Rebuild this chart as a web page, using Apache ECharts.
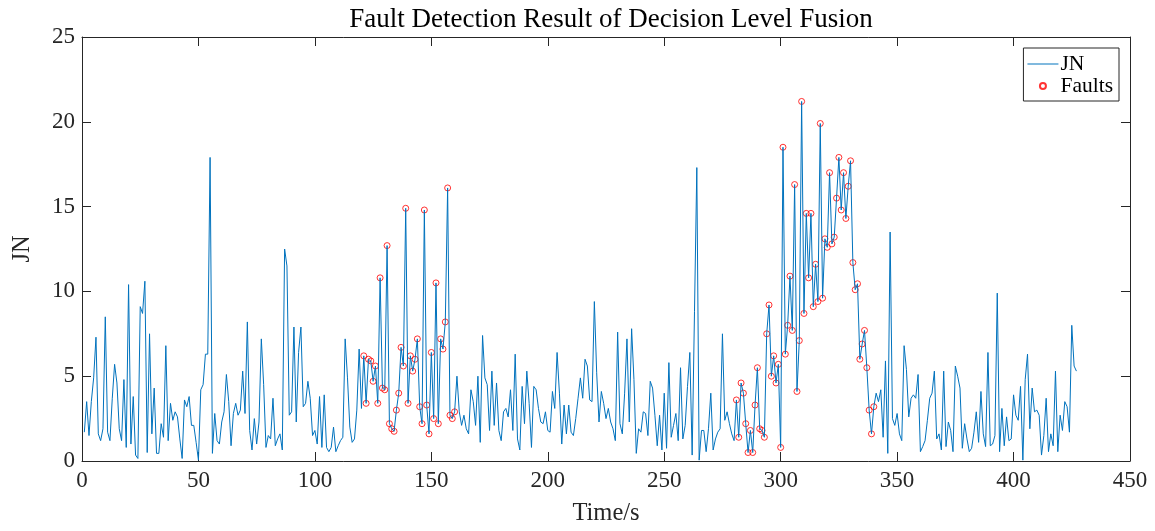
<!DOCTYPE html>
<html>
<head>
<meta charset="utf-8">
<script src="https://cdn.jsdelivr.net/npm/echarts@6/dist/echarts.min.js"></script>
<style>
html,body{margin:0;padding:0;background:#fff;}
#chart{width:1155px;height:531px;}
</style>
</head>
<body>
<div id="chart"></div>
<script>
// JN value at each time step t = 1 .. 427
const jn = [
1.7,3.5,1.5,3.5,4.9,7.3,1.6,1.2,1.9,8.5, 1.7,1.2,3.7,5.7,4.6,1.9,1.2,4.8,0.8,10.4,
1.0,3.8,0.35,0.15,9.1,8.7,10.6,0.5,7.5,1.6, 4.3,0.45,0.45,2.2,1.4,6.8,1.2,3.4,2.4,2.9,
2.6,1.3,0.15,3.6,3.2,3.8,2.1,2.1,1.1,0.05, 4.2,4.5,6.3,6.3,17.9,0.45,2.8,1.2,1.0,2.3,
2.9,5.1,3.5,0.9,2.8,3.4,2.7,3.0,5.3,2.8,
8.2,1.8,0.65,2.5,1.0,2.3,7.2,4.5,0.8,1.5,
1.3,3.7,0.9,1.3,1.6,0.65,12.5,11.5,2.7,2.9,
7.9,2.3,6.4,7.9,3.2,3.4,4.7,3.7,1.5,1.8,
1.0,3.8,0.8,3.9,0.8,0.55,0.8,2.0,0.55,0.9,
1.2,1.4,7.2,4.9,2.0,1.1,1.3,3.0,6.6,3.1,
6.2,3.4,6.0,5.9,4.7,5.6,3.4,10.8,4.3,4.2,
12.7,2.2,1.9,1.75,3.0,4.0,6.7,5.6,14.9,3.4,
6.2,5.3,6.0,7.2,3.2,2.2,14.8,3.3,1.6,6.4,
2.5,10.5,2.2,7.2,6.6,8.2,16.1,2.7,2.5,2.9,
5.0,2.9,2.1,2.7,1.9,1.6,4.2,3.5,2.1,5.0,
1.1,7.4,4.9,4.5,1.8,5.3,2.1,4.6,1.8,1.2,
2.9,3.1,2.6,4.2,1.8,6.3,1.3,0.65,4.4,2.2,
5.3,3.4,0.8,4.4,4.2,3.1,2.3,2.2,2.9,1.8,
1.7,4.1,3.1,6.4,4.0,1.0,3.3,1.6,3.3,1.7,
1.5,2.5,3.7,4.9,3.7,6.0,5.6,3.6,3.5,9.4,
5.2,2.3,4.1,3.4,2.5,3.1,2.3,1.9,1.2,7.6,
2.2,1.6,4.0,7.2,2.3,7.8,4.8,0.45,1.9,1.7,
2.9,2.8,1.5,4.7,4.3,2.7,0.9,2.7,0.65,4.0,
0.75,5.8,1.4,2.1,2.8,1.2,5.5,1.3,2.1,4.4,
6.4,0.35,8.8,17.3,0.05,1.8,1.8,0.55,1.9,4.0,
0.65,1.3,1.7,1.9,7.5,2.4,2.9,2.2,1.6,1.2,
3.6,1.4,4.6,4.0,2.2,0.5,1.8,0.5,3.3,5.5,
1.9,1.8,1.4,7.5,9.2,5.0,6.2,4.6,5.7,0.8,
18.5,6.3,8.0,10.9,7.7,16.3,4.1,7.1,21.2,8.7,
14.6,10.8,14.6,9.1,11.6,9.4,19.9,9.6,13.1,12.6,
17.0,12.8,13.2,15.5,17.9,14.8,17.0,14.3,16.2,17.7,
11.7,10.1,10.45,6.0,6.9,7.7,5.5,3.0,1.6,3.2,
4.0,3.5,4.2,1.4,5.9,0.45,13.5,2.5,2.1,2.8,
1.6,1.2,6.8,5.4,2.6,3.7,3.9,3.7,5.1,0.55,
0.85,1.2,2.4,3.7,4.0,5.3,1.3,1.6,0.65,5.3,
0.85,2.3,1.8,0.55,5.6,5.0,4.3,0.75,2.2,1.3,
0.55,0.75,1.7,2.9,1.1,4.1,1.6,0.85,6.4,0.9,
1.0,1.5,9.9,0.55,3.1,0.9,2.6,1.2,1.3,3.9,
2.7,2.4,4.4,0.05,4.8,6.3,1.9,4.3,2.9,3.0,
2.7,0.35,1.5,3.7,0.55,1.6,0.9,5.3,0.55,2.7,
1.8,3.5,3.2,1.7,8.0,5.6,5.3
];
// time steps flagged as faults (inclusive ranges)
const faultRanges = [[121, 160], [281, 340]];
// axis settings
const xTickStep = 50, xMax = 450;
const yTickStep = 5, yMax = 25;
const seriesNames = ['JN', 'Faults'];
const titleText = 'Fault Detection Result of Decision Level Fusion';
const xName = 'Time/s', yName = 'JN';

const lineData = jn.map((v, i) => [i + 1, v]);
const faultData = [];
faultRanges.forEach(([a, b]) => { for (let t = a; t <= b; t++) faultData.push([t, jn[t - 1]]); });

const FONT = '"Liberation Serif", "Times New Roman", serif';
const AX = '#262626';
const chart = echarts.init(document.getElementById('chart'), null, {renderer: 'canvas'});
const axisCommon = {
  axisLine: {show: true, onZero: false, lineStyle: {color: AX, width: 1}},
  axisTick: {show: true, inside: true, length: 9, lineStyle: {color: AX, width: 1}},
  splitLine: {show: false}
};
chart.setOption({
  animation: false,
  backgroundColor: '#fff',
  title: {
    text: titleText, left: 606, textAlign: 'center', top: 1,
    textStyle: {fontFamily: FONT, fontSize: 27, fontWeight: 'normal', color: '#000'}
  },
  legend: {
    orient: 'vertical', right: 36, top: 48,
    data: [
      {name: seriesNames[0], icon: 'path://M0,0H62V2H0Z'},
      {name: seriesNames[1]}
    ],
    backgroundColor: '#fff', borderColor: AX, borderWidth: 1,
    padding: [5, 6, 4, 4], itemGap: 0, itemWidth: 31, itemHeight: 6,
    textStyle: {fontFamily: FONT, fontSize: 21.5, color: '#000', lineHeight: 21, padding: [0, 0, 0, -3]}
  },
  grid: {left: 82, right: 25, top: 37, bottom: 65, containLabel: false},
  xAxis: [
    Object.assign({
      type: 'value', min: 0, max: xMax, interval: xTickStep, position: 'bottom',
      name: xName, nameLocation: 'middle', nameGap: 40,
      nameTextStyle: {fontFamily: FONT, fontSize: 24.5, color: '#262626'},
      axisLabel: {fontFamily: FONT, fontSize: 23, color: '#262626', margin: 8}
    }, axisCommon),
    Object.assign({
      type: 'value', min: 0, max: xMax, interval: xTickStep, position: 'top',
      axisLabel: {show: false}
    }, axisCommon)
  ],
  yAxis: [
    Object.assign({
      type: 'value', min: 0, max: yMax, interval: yTickStep, position: 'left',
      name: yName, nameLocation: 'middle', nameGap: 47, nameRotate: 90,
      nameTextStyle: {fontFamily: FONT, fontSize: 24.5, color: '#262626'},
      axisLabel: {fontFamily: FONT, fontSize: 23, color: '#262626', margin: 7}
    }, axisCommon),
    Object.assign({
      type: 'value', min: 0, max: yMax, interval: yTickStep, position: 'right',
      axisLabel: {show: false}
    }, axisCommon)
  ],
  series: [
    {
      name: seriesNames[0], type: 'line', data: lineData, xAxisIndex: 0, yAxisIndex: 0,
      symbol: 'none', showSymbol: false,
      lineStyle: {color: '#0072BD', width: 1}, itemStyle: {color: '#0072BD'}
    },
    {
      name: seriesNames[1], type: 'scatter', data: faultData, xAxisIndex: 0, yAxisIndex: 0,
      symbol: 'circle', symbolSize: 6,
      itemStyle: {color: 'rgba(255,255,255,0)', borderColor: '#ff0000', borderWidth: 1}
    }
  ]
});
</script>
</body>
</html>
